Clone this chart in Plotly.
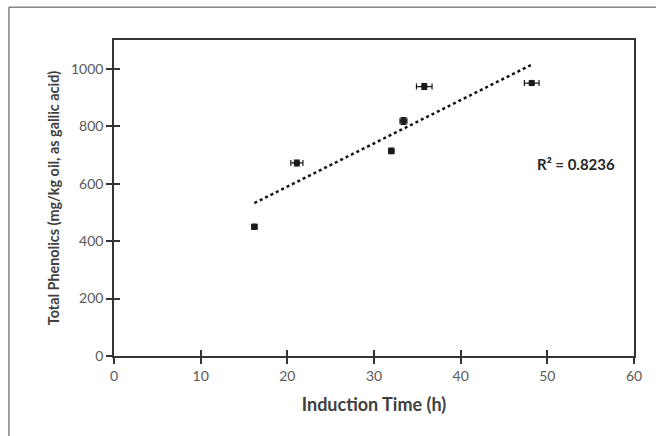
import numpy as np
import plotly.graph_objects as go

induction_time = [16.2, 21.1, 32.0, 33.4, 35.8, 48.2]
phenolics = [450, 672, 714, 818, 938, 950]
time_err = [0.3, 0.7, 0.3, 0.4, 0.9, 0.85]
phenolics_err = [8, 10, 10, 12, 10, 8]
r2_label = "R² = 0.8236"
x_ticks = [0, 10, 20, 30, 40, 50, 60]
y_ticks = [0, 200, 400, 600, 800, 1000]

slope, intercept = np.polyfit(induction_time, phenolics, 1)
fit_x = [min(induction_time), max(induction_time)]
fit_y = [slope * v + intercept for v in fit_x]

fig = go.Figure()
fig.add_trace(go.Scatter(
    x=induction_time, y=phenolics, mode="markers",
    marker=dict(color="#1a1a1a", size=6.5),
    error_x=dict(type="data", array=time_err, color="#1a1a1a", thickness=1.2, width=3),
    error_y=dict(type="data", array=phenolics_err, color="#1a1a1a", thickness=1.2, width=3),
    showlegend=False,
))
fig.add_trace(go.Scatter(
    x=fit_x, y=fit_y, mode="lines",
    line=dict(color="#111111", width=2.5, dash="dot"),
    showlegend=False,
))
# dummy trace on overlay axes (inside half of the crossing ticks)
fig.add_trace(go.Scatter(x=[None], y=[None], xaxis="x2", yaxis="y2",
                         showlegend=False, hoverinfo="skip"))

font = "Lato, 'Open Sans', sans-serif"
axis_common = dict(showgrid=False, zeroline=False, showline=True, linecolor="#333333",
                   linewidth=1.6, tickcolor="#333333", tickwidth=1.6)
fig.update_layout(
    width=656, height=436,
    margin=dict(l=114, r=22, t=40, b=80),
    paper_bgcolor="white", plot_bgcolor="white",
    font=dict(family=font, color="#595959", size=14),
    xaxis=dict(
        range=[0, 60], tickvals=x_ticks, mirror=True, ticks="outside", ticklen=6,
        title=dict(text="<b>Induction Time (h)</b>", font=dict(size=18, color="#404040"), standoff=16),
        tickfont=dict(size=14, color="#595959"), **axis_common,
    ),
    yaxis=dict(
        range=[0, 1100], tickvals=y_ticks, mirror=True, ticks="outside", ticklen=6,
        title=dict(text="<b>Total Phenolics (mg/kg oil, as gallic acid)</b>", font=dict(size=14.4, color="#404040"), standoff=8),
        tickfont=dict(size=14, color="#595959"), **axis_common,
    ),
    xaxis2=dict(range=[0, 60], tickvals=x_ticks, overlaying="x", ticks="inside", ticklen=6,
                showticklabels=False, side="bottom", **axis_common),
    yaxis2=dict(range=[0, 1100], tickvals=y_ticks, overlaying="y", ticks="inside", ticklen=6,
                showticklabels=False, side="left", **axis_common),
    shapes=[dict(type="rect", xref="paper", yref="paper",
                 x0=-0.202, y0=-0.4, x1=1.2, y1=1.104,
                 line=dict(color="#444444", width=1), layer="below")],
    annotations=[dict(x=48.6, y=668, xref="x", yref="y", text="<b>" + r2_label + "</b>",
                      showarrow=False, xanchor="left", yanchor="middle",
                      font=dict(size=15, color="#262626"))],
)
fig.write_html("out.html", config={"displayModeBar": False},
               post_script="document.body.style.margin='0';document.body.style.overflow='hidden';")
